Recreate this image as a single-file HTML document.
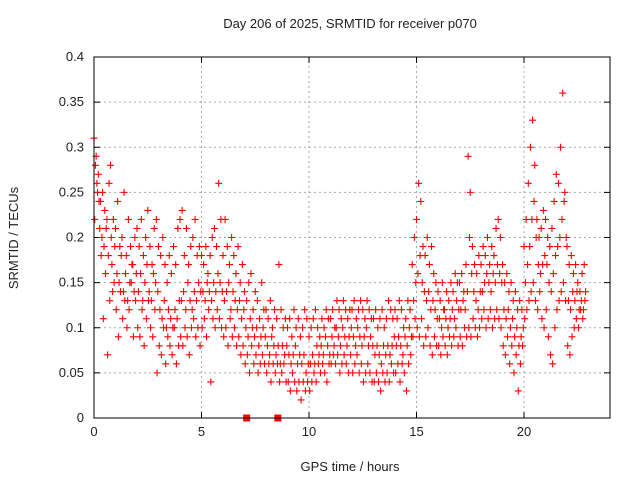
<!DOCTYPE html>
<html><head><meta charset="utf-8"><style>
html,body{margin:0;padding:0;background:#fff;}
svg text{font-family:"Liberation Sans",sans-serif;font-size:13px;fill:#222;}
</style></head><body>
<svg id="chart" width="640" height="480" xmlns="http://www.w3.org/2000/svg">
<rect width="640" height="480" fill="#fff"/>
<text x="350" y="28" text-anchor="middle">Day 206 of 2025, SRMTID for receiver p070</text>
<text transform="translate(18,238) rotate(-90)" text-anchor="middle">SRMTID / TECUs</text>
<text x="350" y="471" text-anchor="middle">GPS time / hours</text>
<g id="grid"></g>
<g id="ticks"></g>
<g id="marks"></g>
<rect x="94" y="57" width="516" height="361" fill="none" stroke="#000" stroke-width="1"/>
</svg>
<script>
const xTicks=[0,5,10,15,20];
const yTicks=[0,0.05,0.1,0.15,0.2,0.25,0.3,0.35,0.4];
const yTickLabels=["0","0.05","0.1","0.15","0.2","0.25","0.3","0.35","0.4"];
const timeStep=0.1;
const seriesOffsets=[0,0.033,0.066];
const seriesA=[.31,.29,.27,.24,.25,.23,.22,.26,.20,.22,.21,.24,.19,.20,.25,.18,.22,.19,.17,.20,.21,.19,.22,.18,.20,.23,.19,.17,.21,.22,.19,.18,.20,.17,.15,.18,.16,.19,.17,.21,.22,.23,.18,.21,.17,.19,.20,.22,.18,.19,.18,.17,.19,.16,.18,.20,.21,.19,.26,.22,.18,.22,.19,.17,.20,.18,.16,.19,.15,.17,.14,.13,.15,.16,.12,.14,.13,.11,.15,.12,.12,.11,.13,.10,.12,.11,.17,.12,.10,.11,.10,.11,.09,.12,.10,.11,.09,.10,.12,.11,.09,.10,.11,.12,.10,.09,.11,.10,.12,.11,.11,.12,.10,.13,.12,.11,.13,.12,.11,.12,.12,.13,.11,.12,.13,.12,.11,.13,.12,.11,.11,.12,.10,.11,.12,.10,.11,.13,.12,.11,.12,.11,.13,.12,.10,.11,.13,.12,.17,.20,.22,.26,.24,.19,.18,.20,.17,.19,.16,.15,.14,.13,.15,.12,.14,.13,.15,.14,.16,.15,.15,.16,.14,.17,.29,.25,.19,.17,.16,.18,.17,.19,.18,.20,.17,.19,.18,.21,.22,.20,.17,.15,.16,.14,.15,.13,.14,.12,.13,.12,.19,.22,.26,.30,.33,.28,.22,.20,.21,.23,.22,.20,.19,.21,.24,.27,.26,.30,.36,.25,.19,.17,.18,.16,.17,.15,.14,.16,.17];
const seriesB=[.22,.26,.24,.18,.11,.16,.07,.13,.17,.15,.12,.09,.14,.11,.13,.10,.12,.15,.09,.13,.10,.09,.12,.08,.11,.13,.10,.09,.12,.05,.08,.07,.10,.06,.09,.08,.07,.10,.06,.08,.09,.08,.10,.09,.07,.10,.11,.09,.10,.08,.10,.11,.09,.12,.04,.11,.10,.12,.11,.10,.09,.10,.08,.11,.09,.10,.08,.09,.07,.08,.06,.07,.05,.08,.06,.07,.05,.06,.07,.06,.05,.06,.04,.06,.05,.06,.04,.05,.06,.04,.04,.03,.05,.04,.03,.04,.02,.04,.03,.04,.03,.04,.05,.04,.06,.05,.06,.05,.04,.06,.06,.07,.06,.07,.05,.06,.07,.06,.05,.07,.05,.06,.07,.05,.06,.04,.05,.06,.05,.04,.04,.05,.04,.03,.05,.04,.05,.04,.06,.05,.05,.06,.04,.06,.05,.03,.06,.07,.09,.11,.10,.09,.11,.08,.09,.10,.08,.07,.09,.08,.08,.07,.09,.08,.07,.09,.08,.09,.10,.08,.09,.08,.10,.09,.10,.09,.11,.10,.09,.10,.11,.12,.10,.11,.12,.10,.11,.12,.11,.10,.08,.07,.09,.06,.08,.05,.07,.03,.06,.08,.11,.12,.13,.14,.15,.13,.12,.14,.11,.10,.12,.09,.07,.06,.10,.12,.13,.14,.15,.13,.08,.07,.09,.10,.11,.10,.12,.11,.13];
const seriesC=[.28,.25,.21,.20,.19,.21,.18,.28,.14,.19,.16,.15,.18,.14,.16,.13,.15,.17,.14,.16,.14,.16,.13,.15,.17,.14,.13,.16,.15,.14,.12,.11,.13,.10,.12,.11,.10,.12,.11,.13,.13,.14,.12,.15,.13,.12,.14,.13,.15,.14,.14,.13,.15,.14,.13,.15,.14,.16,.15,.14,.13,.14,.15,.12,.14,.13,.12,.13,.11,.12,.10,.09,.11,.10,.09,.10,.08,.09,.10,.09,.08,.07,.09,.08,.07,.08,.06,.08,.07,.08,.07,.06,.07,.08,.06,.07,.06,.07,.05,.06,.06,.07,.06,.08,.07,.08,.07,.09,.08,.07,.09,.08,.10,.09,.08,.10,.09,.08,.09,.10,.09,.08,.10,.09,.08,.09,.10,.08,.09,.08,.07,.08,.07,.06,.08,.07,.08,.07,.08,.09,.08,.09,.08,.07,.09,.08,.10,.09,.13,.15,.16,.18,.15,.14,.13,.14,.12,.13,.12,.11,.11,.10,.12,.11,.10,.11,.12,.11,.13,.12,.12,.13,.12,.14,.20,.16,.14,.13,.12,.14,.14,.15,.16,.15,.14,.16,.15,.17,.16,.15,.12,.11,.12,.10,.11,.09,.10,.08,.09,.10,.15,.17,.19,.22,.24,.20,.17,.16,.17,.18,.17,.15,.14,.16,.18,.19,.20,.22,.24,.20,.13,.12,.14,.13,.14,.12,.13,.12,.14];
const zeroTimes=[7.1,8.55];
const zeroValues=[0,0];

const NS="http://www.w3.org/2000/svg";
const X0=94,X1=610,Y0=418,Y1=57,XMAX=24,YMAX=0.4;
function xs(t){return X0+(X1-X0)*t/XMAX;}
function ys(v){return Y0-(Y0-Y1)*v/YMAX;}
function mk(tag,attrs,parent){const e=document.createElementNS(NS,tag);for(const k in attrs)e.setAttribute(k,attrs[k]);parent.appendChild(e);return e;}
const grid=document.getElementById('grid'),ticks=document.getElementById('ticks'),marks=document.getElementById('marks');
xTicks.forEach(t=>{
  const x=xs(t);
  if(t>0){const g=mk('line',{x1:x,x2:x,y1:Y0,y2:Y1,stroke:'#aaa','stroke-dasharray':'2,3'},grid);
  
  }
  mk('line',{x1:x,x2:x,y1:Y0,y2:Y0-6,stroke:'#000'},ticks);
  mk('line',{x1:x,x2:x,y1:Y1,y2:Y1+6,stroke:'#000'},ticks);
  const l=mk('text',{x:x,y:Y0+18,'text-anchor':'middle'},ticks);l.textContent=t;
  
  
});
yTicks.forEach((v,i)=>{
  const y=ys(v);
  if(v>0&&v<YMAX){const g=mk('line',{x1:X0,x2:X1,y1:y,y2:y,stroke:'#aaa','stroke-dasharray':'2,3'},grid);
  
  }
  mk('line',{x1:X0,x2:X0+6,y1:y,y2:y,stroke:'#000'},ticks);
  mk('line',{x1:X1,x2:X1-6,y1:y,y2:y,stroke:'#000'},ticks);
  const l=mk('text',{x:X0-10,y:y+4,'text-anchor':'end'},ticks);l.textContent=yTickLabels[i];
  
  
});
function plus(t,v){
  const x=xs(t),y=ys(v);
  const p=mk('path',{d:`M${x-3.5},${y}H${x+3.5}M${x},${y-3.5}V${y+3.5}`,stroke:'#f00','stroke-width':1.1,fill:'none'},marks);
  
  
}
[seriesA,seriesB,seriesC].forEach((s,k)=>s.forEach((v,i)=>plus(i*timeStep+seriesOffsets[k],v)));
zeroTimes.forEach((t,i)=>{
  const r=mk('rect',{x:xs(t)-3.5,y:ys(zeroValues[i])-3.5,width:7,height:7,fill:'#f00'},marks);
  
  
});
</script>
</body></html>
